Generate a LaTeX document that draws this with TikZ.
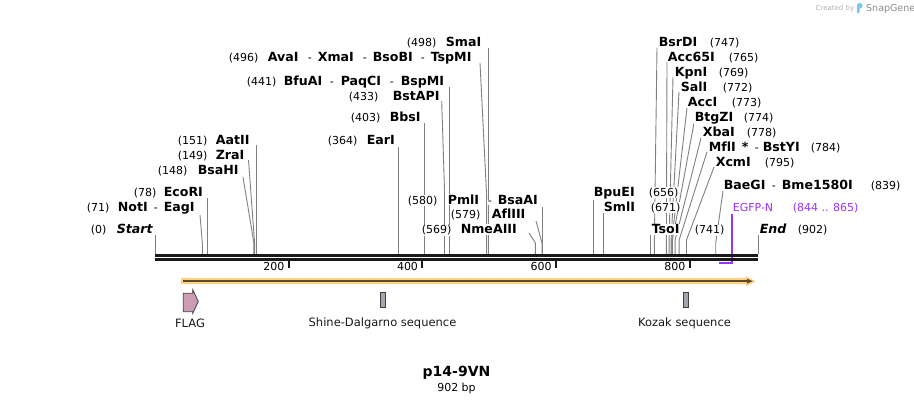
\documentclass[tikz,border=0pt]{standalone}
\usepackage{fontspec}
\setmainfont{DejaVu Sans}[Ligatures=NoCommon]
\definecolor{linegray}{RGB}{128,128,128}
\definecolor{bbcol}{RGB}{26,26,26}
\definecolor{glow}{RGB}{255,208,125}
\definecolor{darkline}{RGB}{92,74,46}
\definecolor{flagpink}{RGB}{204,155,182}
\definecolor{featgray}{RGB}{162,166,174}
\definecolor{egfp}{RGB}{153,51,255}
\definecolor{snapblue}{RGB}{120,200,240}
\newcommand\numsz{\fontsize{11pt}{12pt}\selectfont}
\newcommand\wb[1]{{\setlength\fboxsep{0.6pt}\colorbox{white}{#1}}}
\newcommand\pc[2]{\makebox[#1pt][l]{\wb{#2}}}
\newcommand\nm[1]{{\fontsize{12.6pt}{14pt}\selectfont\bfseries #1}}
\newcommand\nmi[1]{{\fontsize{12.6pt}{14pt}\selectfont\bfseries\itshape #1}}
\newcommand\lbl[4]{\node[lab] (#1) at (#2,#3+4.3) {#4};}
\tikzset{
  lab/.style={anchor=base west, inner sep=0pt, font=\numsz, text=black},
  siteline/.style={draw=linegray, line width=0.9pt},
  tickmark/.style={draw=bbcol, line width=2pt},
  ticklab/.style={anchor=base east, inner sep=0pt, font=\numsz},
  featlab/.style={inner sep=0pt, font=\fontsize{11.5pt}{13pt}\selectfont, text=black!90},
  featbox/.style={draw=black!75, line width=0.8pt, fill=featgray}
}
\begin{document}
\begin{tikzpicture}[x=1pt,y=-1pt]
\fill[white] (0,0) rectangle (914,404);
\useasboundingbox (0,0) rectangle (914,404);

% ---- site lines ----
\draw[siteline] (155,235) -- (155,254);
\draw[siteline] (200,215) -- (202.5,245) -- (202.5,254);
\draw[siteline] (207.5,198) -- (207.5,254);
\draw[siteline] (243,177) -- (253.9,243) -- (253.9,254);
\draw[siteline] (248.5,160) -- (254.6,243) -- (254.6,254);
\draw[siteline] (256,145) -- (256,254);
\draw[siteline] (398.3,147) -- (398.3,254);
\draw[siteline] (424.4,123) -- (424.4,254);
\draw[siteline] (441.7,101) -- (444.5,190) -- (444.5,254);
\draw[siteline] (449.8,87) -- (449.8,254);
\draw[siteline] (480,63) -- (486.6,195) -- (486.6,254);
\draw[siteline] (488,48) -- (488,254);
\draw[siteline] (529,233) -- (535.4,243) -- (535.4,254);
\draw[siteline] (536,221) -- (542,243) -- (542,254);
\draw[siteline] (542.7,207) -- (542.7,254);
\draw[siteline] (593.5,198) -- (593.5,254);
\draw[siteline] (603.6,213) -- (603.6,254);
\draw[siteline] (650.4,235) -- (650.4,254);
\draw[siteline] (657,48) -- (654.4,240) -- (654.4,254);
\draw[siteline] (667,62) -- (666.4,240) -- (666.4,254);
\draw[siteline] (673,77) -- (669.1,240) -- (669.1,254);
\draw[siteline] (679,92) -- (671.1,240) -- (671.1,254);
\draw[siteline] (687,108) -- (671.8,240) -- (671.8,254);
\draw[siteline] (694,123) -- (672.4,240) -- (672.4,254);
\draw[siteline] (701,138) -- (675.1,240) -- (675.1,254);
\draw[siteline] (707,152) -- (679.1,240) -- (679.1,254);
\draw[siteline] (714,167) -- (686.5,240) -- (686.5,254);
\draw[siteline] (723,191) -- (715.7,243) -- (715.7,254);
\draw[siteline] (758,235) -- (758,254);

% ---- labels left ----
\lbl{lStart}{90}{229.5}{\pc{26}{(0)}\wb{\nmi{Start}}}
\lbl{lNotI}{86}{207.5}{\pc{31}{(71)}\pc{36}{\nm{NotI}}\pc{10}{-}\wb{\nm{EagI}}}
\lbl{lEcoRI}{133}{192}{\pc{30}{(78)}\wb{\nm{EcoRI}}}
\lbl{lBsaHI}{157}{170.5}{\pc{40}{(148)}\wb{\nm{BsaHI}}}
\lbl{lZraI}{177}{155}{\pc{38}{(149)}\wb{\nm{ZraI}}}
\lbl{lAatII}{177}{140}{\pc{38}{(151)}\wb{\nm{AatII}}}
% ---- labels middle ----
\lbl{lSmaI}{406}{42}{\pc{39}{(498)}\wb{\nm{SmaI}}}
\lbl{lAvaI}{228}{57}{\pc{39}{(496)}\pc{40}{\nm{AvaI}}\pc{10}{-}\pc{45}{\nm{XmaI}}\pc{10}{-}\pc{48}{\nm{BsoBI}}\pc{10}{-}\wb{\nm{TspMI}}}
\lbl{lBfuAI}{246}{81}{\pc{37}{(441)}\pc{46}{\nm{BfuAI}}\pc{11}{-}\pc{49}{\nm{PaqCI}}\pc{11}{-}\wb{\nm{BspMI}}}
\lbl{lBstAPI}{348}{96}{\pc{44}{(433)}\wb{\nm{BstAPI}}}
\lbl{lBbsI}{350}{117}{\pc{39}{(403)}\wb{\nm{BbsI}}}
\lbl{lEarI}{327}{140}{\pc{39}{(364)}\wb{\nm{EarI}}}
\lbl{lPmlI}{407}{200}{\pc{40}{(580)}\pc{40}{\nm{PmlI}}\pc{10}{-}\wb{\nm{BsaAI}}}
\lbl{lAflIII}{450}{214}{\pc{41}{(579)}\wb{\nm{AflIII}}}
\lbl{lNmeAIII}{421}{229.5}{\pc{39}{(569)}\wb{\nm{NmeAIII}}}
% ---- labels right ----
\lbl{lBsrDI}{658}{42}{\pc{51}{\nm{BsrDI}}\wb{(747)}}
\lbl{lAcc65I}{667}{57}{\pc{61}{\nm{Acc65I}}\wb{(765)}}
\lbl{lKpnI}{674}{72}{\pc{44}{\nm{KpnI}}\wb{(769)}}
\lbl{lSalI}{680}{87}{\pc{42}{\nm{SalI}}\wb{(772)}}
\lbl{lAccI}{687}{102}{\pc{44}{\nm{AccI}}\wb{(773)}}
\lbl{lBtgZI}{694}{117}{\pc{49}{\nm{BtgZI}}\wb{(774)}}
\lbl{lXbaI}{702}{132}{\pc{44}{\nm{XbaI}}\wb{(778)}}
\lbl{lMflI}{708}{147}{\pc{33}{\nm{MflI}}\pc{13}{\nm{*}}\pc{8}{-}\pc{48}{\nm{BstYI}}\wb{(784)}}
\lbl{lXcmI}{715}{162}{\pc{49}{\nm{XcmI}}\wb{(795)}}
\lbl{lBaeGI}{723}{185}{\pc{48}{\nm{BaeGI}}\pc{10}{-}\pc{89}{\nm{Bme1580I}}\wb{(839)}}
\lbl{lBpuEI}{593}{192}{\pc{55}{\nm{BpuEI}}\wb{(656)}}
\lbl{lSmlI}{603}{207}{\pc{47}{\nm{SmlI}}\wb{(671)}}
\lbl{lTsoI}{651}{229.5}{\pc{43}{\nm{TsoI}}\wb{(741)}}
\lbl{lEnd}{759}{229.5}{\pc{38}{\nmi{End}}\wb{(902)}}
\node[lab, text=egfp] (lEGFP) at (732,207+4.3) {\pc{60}{EGFP-N}\wb{(844 .. 865)}};

% ---- EGFP bracket ----
\draw[egfp, line width=2pt] (732.3,214) -- (732.3,263.3) -- (718.5,263.3);

% ---- backbone ----
\draw[bbcol, line width=2.6pt] (155,255.3) -- (758,255.3);
\draw[bbcol, line width=2.4pt] (155,259.5) -- (758,259.5);

% ---- ruler ----
\draw[tickmark] (288.5,260.5) -- (288.5,267.5);
\draw[tickmark] (422.2,260.5) -- (422.2,267.5);
\draw[tickmark] (555.9,260.5) -- (555.9,267.5);
\draw[tickmark] (689.5,260.5) -- (689.5,267.5);
\node[ticklab] (t200) at (284.5,270.5) {200};
\node[ticklab] (t400) at (418.2,270.5) {400};
\node[ticklab] (t600) at (551.9,270.5) {600};
\node[ticklab] (t800) at (685.5,270.5) {800};

% ---- ORF arrow ----
\fill[glow] (181,278.2) -- (746,278.2) -- (746,276.3) -- (755.5,281.2) -- (746,286.1) -- (746,284.2) -- (181,284.2) -- cycle;
\draw[darkline, line width=2pt] (182.5,281.2) -- (748,281.2);
\fill[darkline] (747,278.8) -- (752.8,281.2) -- (747,283.6) -- cycle;

% ---- features ----
\draw[featbox, fill=flagpink] (183.3,293.3) -- (192.7,293.3) -- (192.7,289.6) -- (198.3,301.5) -- (192.7,313.4) -- (192.7,311.7) -- (183.3,311.7) -- cycle;
\draw[featbox] (380.8,292.8) rectangle (385.8,307.8);
\draw[featbox] (683.3,292.8) rectangle (688.3,307.8);
\node[featlab] (fFLAG) at (190,323) {FLAG};
\node[featlab] (fSD) at (382.5,323) {Shine-Dalgarno sequence};
\node[featlab] (fKozak) at (684.5,323) {Kozak sequence};

% ---- title ----
\node[inner sep=0pt, font=\fontsize{14pt}{16pt}\selectfont\bfseries] (title) at (456.5,373) {p14-9VN};
\node[inner sep=0pt, font=\numsz] (bp) at (456.5,388) {902 bp};

% ---- watermark ----
\node[anchor=base west, inner sep=0pt, text=black!30, font=\fontsize{7pt}{8pt}\selectfont] (wm1) at (815.5,10.5) {Created by};
\fill[snapblue] (857,13) -- (857,4) -- (860,3) .. controls (863.5,3) and (863.5,8.5) .. (860,8.5) -- (859.6,8.5) -- (859.6,13) -- cycle;
\node[anchor=base west, inner sep=0pt, text=black!45, font=\fontsize{9.5pt}{10pt}\selectfont] (wm2) at (866,11.5) {SnapGene};
\end{tikzpicture}
\end{document}
